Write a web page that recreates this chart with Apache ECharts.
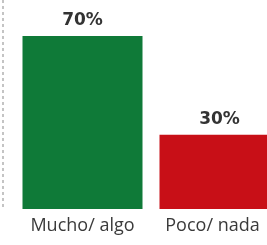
<!DOCTYPE html>
<html>
<head>
<meta charset="utf-8">
<script src="https://cdn.jsdelivr.net/npm/echarts@6/dist/echarts.min.js"></script>
<style>
  html, body { margin: 0; padding: 0; background: #fff; }
  #chart { width: 267px; height: 245px; }
</style>
</head>
<body>
<div id="chart"></div>
<script>
const categories = ['Mucho/ algo', 'Poco/ nada'];
const values = [70, 30];
const barColors = ['#0f7a38', '#c80f17'];

const chart = echarts.init(document.getElementById('chart'));
chart.setOption({
  animation: false,
  // faint page edge seen in the scan
  graphic: [{
    type: 'line',
    shape: { x1: 3, y1: 0, x2: 3, y2: 208 },
    style: { stroke: '#c4c4c4', lineWidth: 2, lineDash: [3, 3] }
  }],
  grid: { left: 14, right: -21, top: 36, bottom: 36, containLabel: false, outerBoundsMode: 'none' },
  xAxis: {
    type: 'category',
    data: categories.map((c, i) => i === 1 ? { value: c, textStyle: { padding: [0, 14, 0, 0] } } : c),
    axisLine: { show: false },
    axisTick: { show: false },
    axisLabel: {
      color: '#3a3a3a',
      fontSize: 18,
      fontFamily: 'Open Sans',
      margin: 8
    }
  },
  yAxis: {
    type: 'value',
    min: 0,
    max: 70,
    show: false
  },
  series: [{
    type: 'bar',
    barWidth: 120,
    data: values.map((v, i) => ({ value: v, itemStyle: { color: barColors[i] } })),
    label: {
      show: true,
      position: 'top',
      distance: 7,
      formatter: '{c}%',
      color: '#333',
      fontSize: 17,
      fontWeight: 'bold',
      fontFamily: 'DejaVu Sans'
    }
  }]
});
</script>
</body>
</html>
